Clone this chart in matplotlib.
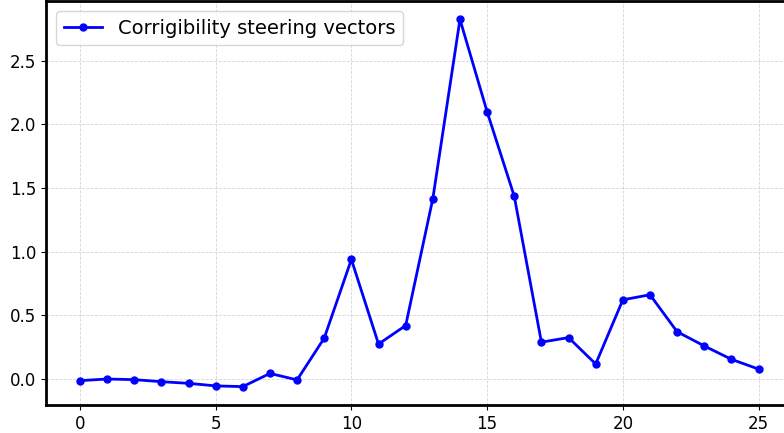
import matplotlib
matplotlib.use("Agg")
import matplotlib.pyplot as plt

layers = list(range(26))
values = [-0.016, -0.003, -0.008, -0.024, -0.037, -0.057, -0.063, 0.041, -0.010,
          0.319, 0.938, 0.272, 0.418, 1.416, 2.827, 2.10, 1.435, 0.287, 0.323,
          0.115, 0.62, 0.66, 0.369, 0.257, 0.152, 0.075]
label = "Corrigibility steering vectors"

fig = plt.figure(figsize=(7.84, 4.33), dpi=100)
W, H = 784, 433
left, right, top, bottom = 46, 792.5, 1, 405
ax = fig.add_axes([left / W, (H - bottom) / H, (right - left) / W, (bottom - top) / H])
ax.plot(layers, values, color="blue", marker="o", markersize=5, linewidth=2, label=label)
ax.grid(True, linestyle="--", linewidth=0.6, color="#cccccc", alpha=0.8)
for s in ax.spines.values():
    s.set_linewidth(2)
ax.tick_params(labelsize=12)
ax.set_xticks([0, 5, 10, 15, 20, 25])
ax.set_yticks([0.0, 0.5, 1.0, 1.5, 2.0, 2.5])
ax.legend(loc="upper left", fontsize=14)
fig.savefig("out.png", dpi=100)
